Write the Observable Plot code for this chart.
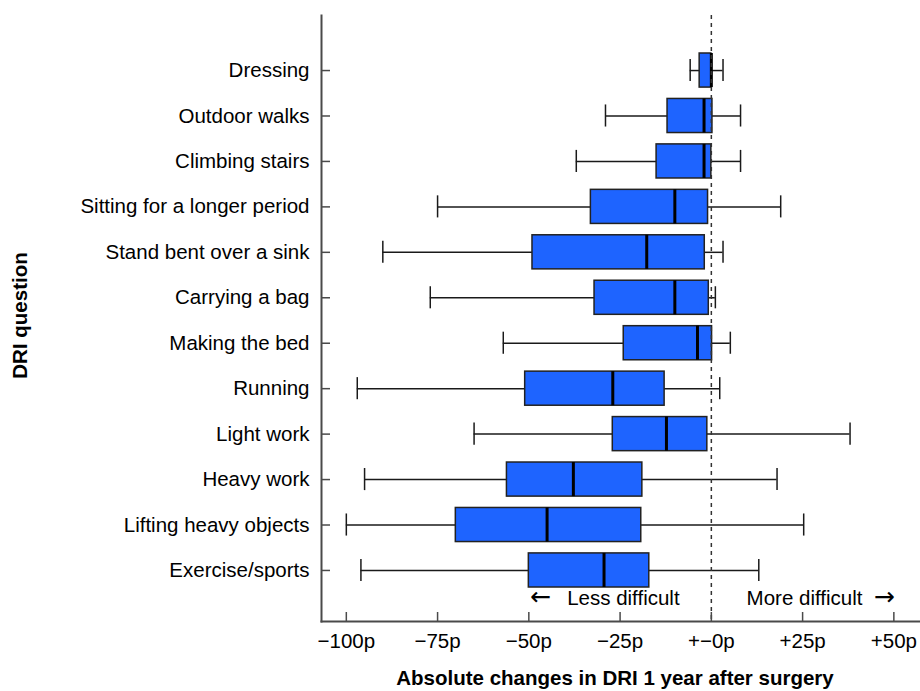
<!DOCTYPE html>
<html>
<head>
<meta charset="utf-8">
<script src="https://cdn.jsdelivr.net/npm/d3@7"></script>
<script src="https://cdn.jsdelivr.net/npm/@observablehq/plot@0.6"></script>
<style>
  html, body { margin: 0; padding: 0; background: #fff; }
  #chart { width: 920px; height: 691px; }
</style>
</head>
<body>
<div id="chart"></div>
<script>
const questions = ["Dressing", "Outdoor walks", "Climbing stairs", "Sitting for a longer period",
  "Stand bent over a sink", "Carrying a bag", "Making the bed", "Running", "Light work",
  "Heavy work", "Lifting heavy objects", "Exercise/sports"];
const whiskerLow  = [-5.8, -29, -37, -75, -90, -77, -57, -97, -65, -95, -100, -96];
const q1          = [-3.2, -12, -15, -33, -49, -32, -24, -51, -27, -56, -70, -50];
const median      = [0, -2, -2, -10, -17.7, -10, -3.8, -27, -12.3, -37.8, -45, -29.4];
const q3          = [0, 0.3, 0, -0.9, -1.8, -0.7, 0.2, -12.8, -1.1, -18.9, -19.2, -17];
const whiskerHigh = [3.2, 8, 8, 19, 3.2, 1.1, 5.2, 2.3, 38, 18, 25.3, 13];
const xTicks = [-100, -75, -50, -25, 0, 25, 50];
const xLabel = "Absolute changes in DRI 1 year after surgery";
const yLabel = "DRI question";
const noteLess = "Less difficult";
const noteMore = "More difficult";
const arrowLeft = "\u2190";
const arrowRight = "\u2192";

const rows = questions.map((q, i) => ({
  q, lo: whiskerLow[i], q1: q1[i], med: median[i], q3: q3[i], hi: whiskerHigh[i]
}));

const fmt = d => d === 0 ? "+\u22120p" : d > 0 ? `+${d}p` : `\u2212${-d}p`;
const ink = "#1a1a1a";
const axisInk = "#4a4a4a";
const fs = 20.5;

const chart = Plot.plot({
  width: 920,
  height: 691,
  marginLeft: 321,
  marginRight: 0,
  marginTop: 15,
  marginBottom: 70,
  style: { fontFamily: "'Liberation Sans', Arial, Helvetica, sans-serif", fontSize: fs + "px", background: "#fff", color: "#000" },
  x: { domain: [-106.8, 57.3], label: null },
  y: { domain: questions, range: [53, 587], paddingInner: 0.25, paddingOuter: 0, round: false, label: null },
  marks: [
    // whiskers
    Plot.ruleY(rows, { y: "q", x1: "lo", x2: "q1", stroke: ink, strokeWidth: 1.5 }),
    Plot.ruleY(rows, { y: "q", x1: "q3", x2: "hi", stroke: ink, strokeWidth: 1.5 }),
    Plot.tickX(rows, { y: "q", x: "lo", stroke: ink, strokeWidth: 1.5, inset: 6 }),
    Plot.tickX(rows, { y: "q", x: "hi", stroke: ink, strokeWidth: 1.5, inset: 6 }),
    // boxes
    Plot.barX(rows, { y: "q", x1: "q1", x2: "q3", fill: "#1e64ff", stroke: "#222", strokeWidth: 1.5 }),
    Plot.tickX(rows, { y: "q", x: "med", stroke: "#000", strokeWidth: 3 }),
    // zero reference
    Plot.ruleX([0], { stroke: "#333", strokeWidth: 1.5, strokeDasharray: "4,4" }),
    // axes
    Plot.frame({ anchor: "left", stroke: axisInk, strokeWidth: 2 }),
    Plot.frame({ anchor: "bottom", stroke: axisInk, strokeWidth: 2 }),
    Plot.ruleX(xTicks, { x: d => d, insetTop: 597, stroke: axisInk, strokeWidth: 1.5 }),
    Plot.ruleY(questions, { y: d => d, insetRight: 590, stroke: axisInk, strokeWidth: 1.5 }),
    Plot.axisX({ ticks: xTicks, tickFormat: fmt, tickSize: 0, tickPadding: 12, fontSize: fs, label: null }),
    Plot.axisY({ tickSize: 0, tickPadding: 12, fontSize: fs, label: null }),
    // annotations
    Plot.text([arrowLeft], { x: [-49.6], text: d => d, frameAnchor: "bottom", lineAnchor: "middle", dy: -24.5, textAnchor: "start", fontSize: 25, fontFamily: "'DejaVu Sans', sans-serif" }),
    Plot.text([noteLess], { x: [-39.5], text: d => d, frameAnchor: "bottom", lineAnchor: "middle", dy: -23.5, textAnchor: "start", fontSize: fs }),
    Plot.text([noteMore], { x: [41.4], text: d => d, frameAnchor: "bottom", lineAnchor: "middle", dy: -23.5, textAnchor: "end", fontSize: fs }),
    Plot.text([arrowRight], { x: [50.2], text: d => d, frameAnchor: "bottom", lineAnchor: "middle", dy: -24.5, textAnchor: "end", fontSize: 25, fontFamily: "'DejaVu Sans', sans-serif" }),
    // axis titles
    Plot.text([xLabel], { text: d => d, frameAnchor: "bottom", lineAnchor: "middle", dy: 57, dx: -6, textAnchor: "middle", fontWeight: "bold", fontSize: fs }),
    Plot.text([yLabel], { text: d => d, frameAnchor: "left", dx: -301, dy: -3, rotate: -90, textAnchor: "middle", fontWeight: "bold", fontSize: fs })
  ]
});
document.getElementById("chart").appendChild(chart);
</script>
</body>
</html>
